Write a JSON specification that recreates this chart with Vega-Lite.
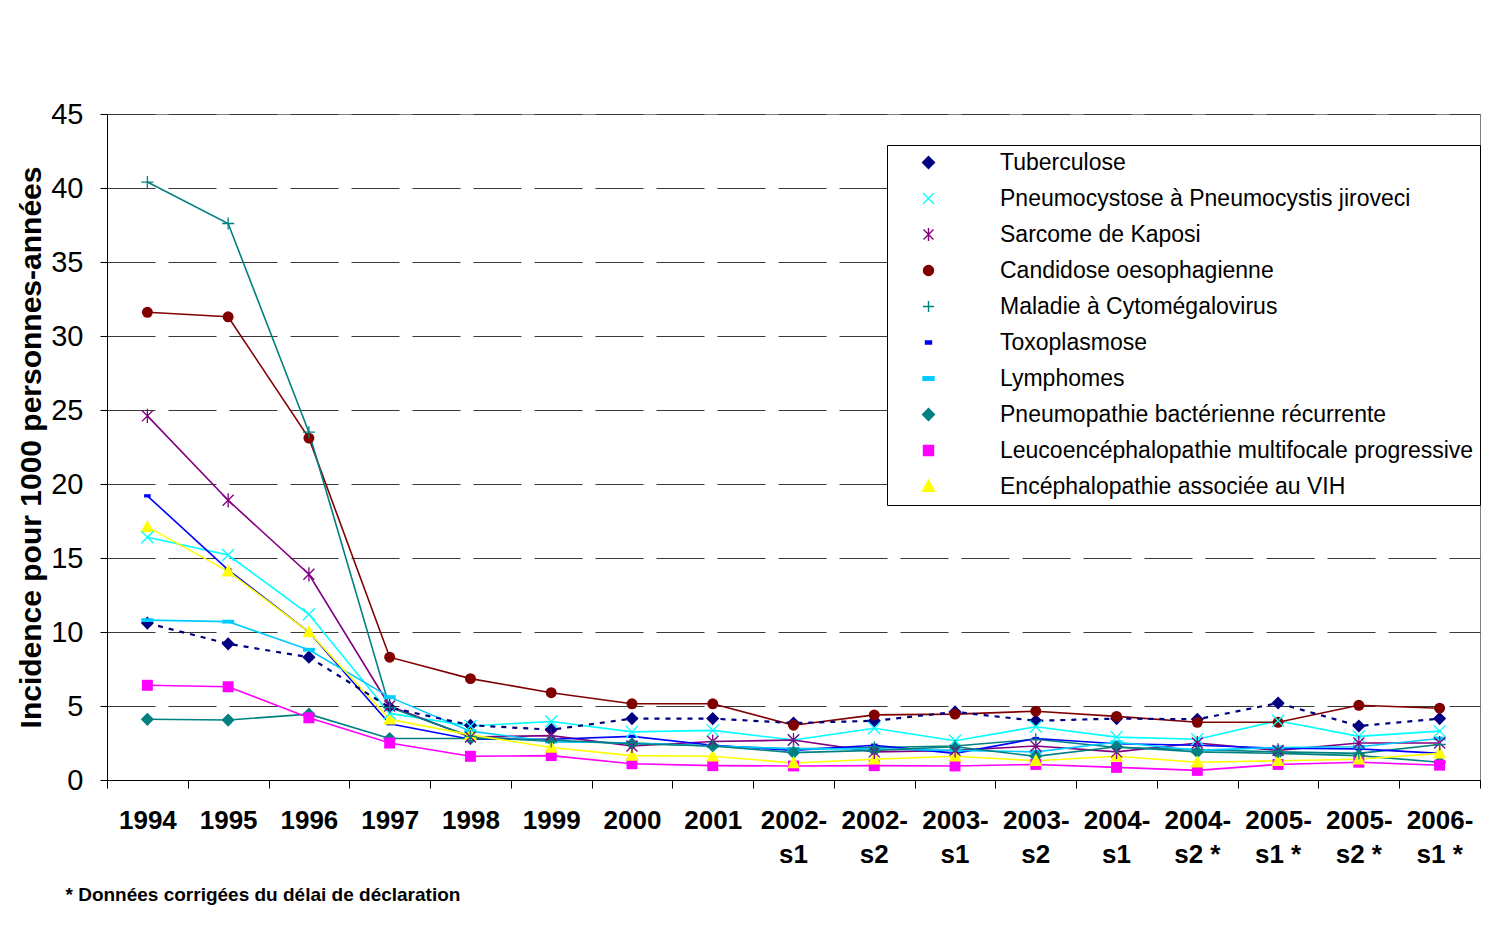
{
  "$schema": "https://vega.github.io/schema/vega-lite/v6.json",
  "width": 1373,
  "height": 666,
  "autosize": {"type": "none"},
  "padding": {"left": 107, "top": 114, "right": 31, "bottom": 157},
  "background": "#ffffff",
  "config": {
    "view": {"stroke": "#808080", "strokeWidth": 1},
    "font": "Liberation Sans"
  },
  "data": {
    "values": [
      {"annee": "1994", "maladie": "Tuberculose", "incidence": 10.6},
      {"annee": "1995", "maladie": "Tuberculose", "incidence": 9.2},
      {"annee": "1996", "maladie": "Tuberculose", "incidence": 8.3},
      {"annee": "1997", "maladie": "Tuberculose", "incidence": 4.9},
      {"annee": "1998", "maladie": "Tuberculose", "incidence": 3.7},
      {"annee": "1999", "maladie": "Tuberculose", "incidence": 3.4},
      {"annee": "2000", "maladie": "Tuberculose", "incidence": 4.15},
      {"annee": "2001", "maladie": "Tuberculose", "incidence": 4.15},
      {"annee": "2002-s1", "maladie": "Tuberculose", "incidence": 3.85},
      {"annee": "2002-s2", "maladie": "Tuberculose", "incidence": 4.0},
      {"annee": "2003-s1", "maladie": "Tuberculose", "incidence": 4.6},
      {"annee": "2003-s2", "maladie": "Tuberculose", "incidence": 4.0},
      {"annee": "2004-s1", "maladie": "Tuberculose", "incidence": 4.15},
      {"annee": "2004-s2 *", "maladie": "Tuberculose", "incidence": 4.1},
      {"annee": "2005-s1 *", "maladie": "Tuberculose", "incidence": 5.2},
      {"annee": "2005-s2 *", "maladie": "Tuberculose", "incidence": 3.65},
      {"annee": "2006-s1 *", "maladie": "Tuberculose", "incidence": 4.15},

      {"annee": "1994", "maladie": "Pneumocystose à Pneumocystis jiroveci", "incidence": 16.4},
      {"annee": "1995", "maladie": "Pneumocystose à Pneumocystis jiroveci", "incidence": 15.2},
      {"annee": "1996", "maladie": "Pneumocystose à Pneumocystis jiroveci", "incidence": 11.2},
      {"annee": "1997", "maladie": "Pneumocystose à Pneumocystis jiroveci", "incidence": 4.5},
      {"annee": "1998", "maladie": "Pneumocystose à Pneumocystis jiroveci", "incidence": 3.65},
      {"annee": "1999", "maladie": "Pneumocystose à Pneumocystis jiroveci", "incidence": 3.95},
      {"annee": "2000", "maladie": "Pneumocystose à Pneumocystis jiroveci", "incidence": 3.25},
      {"annee": "2001", "maladie": "Pneumocystose à Pneumocystis jiroveci", "incidence": 3.35},
      {"annee": "2002-s1", "maladie": "Pneumocystose à Pneumocystis jiroveci", "incidence": 2.7},
      {"annee": "2002-s2", "maladie": "Pneumocystose à Pneumocystis jiroveci", "incidence": 3.5},
      {"annee": "2003-s1", "maladie": "Pneumocystose à Pneumocystis jiroveci", "incidence": 2.65},
      {"annee": "2003-s2", "maladie": "Pneumocystose à Pneumocystis jiroveci", "incidence": 3.6},
      {"annee": "2004-s1", "maladie": "Pneumocystose à Pneumocystis jiroveci", "incidence": 2.9},
      {"annee": "2004-s2 *", "maladie": "Pneumocystose à Pneumocystis jiroveci", "incidence": 2.75},
      {"annee": "2005-s1 *", "maladie": "Pneumocystose à Pneumocystis jiroveci", "incidence": 4.0},
      {"annee": "2005-s2 *", "maladie": "Pneumocystose à Pneumocystis jiroveci", "incidence": 2.95},
      {"annee": "2006-s1 *", "maladie": "Pneumocystose à Pneumocystis jiroveci", "incidence": 3.3},

      {"annee": "1994", "maladie": "Sarcome de Kaposi", "incidence": 24.6},
      {"annee": "1995", "maladie": "Sarcome de Kaposi", "incidence": 18.9},
      {"annee": "1996", "maladie": "Sarcome de Kaposi", "incidence": 13.9},
      {"annee": "1997", "maladie": "Sarcome de Kaposi", "incidence": 5.0},
      {"annee": "1998", "maladie": "Sarcome de Kaposi", "incidence": 2.9},
      {"annee": "1999", "maladie": "Sarcome de Kaposi", "incidence": 3.0},
      {"annee": "2000", "maladie": "Sarcome de Kaposi", "incidence": 2.3},
      {"annee": "2001", "maladie": "Sarcome de Kaposi", "incidence": 2.6},
      {"annee": "2002-s1", "maladie": "Sarcome de Kaposi", "incidence": 2.7},
      {"annee": "2002-s2", "maladie": "Sarcome de Kaposi", "incidence": 1.9},
      {"annee": "2003-s1", "maladie": "Sarcome de Kaposi", "incidence": 2.0},
      {"annee": "2003-s2", "maladie": "Sarcome de Kaposi", "incidence": 2.3},
      {"annee": "2004-s1", "maladie": "Sarcome de Kaposi", "incidence": 1.9},
      {"annee": "2004-s2 *", "maladie": "Sarcome de Kaposi", "incidence": 2.5},
      {"annee": "2005-s1 *", "maladie": "Sarcome de Kaposi", "incidence": 2.0},
      {"annee": "2005-s2 *", "maladie": "Sarcome de Kaposi", "incidence": 2.5},
      {"annee": "2006-s1 *", "maladie": "Sarcome de Kaposi", "incidence": 2.5},

      {"annee": "1994", "maladie": "Candidose oesophagienne", "incidence": 31.6},
      {"annee": "1995", "maladie": "Candidose oesophagienne", "incidence": 31.3},
      {"annee": "1996", "maladie": "Candidose oesophagienne", "incidence": 23.1},
      {"annee": "1997", "maladie": "Candidose oesophagienne", "incidence": 8.3},
      {"annee": "1998", "maladie": "Candidose oesophagienne", "incidence": 6.85},
      {"annee": "1999", "maladie": "Candidose oesophagienne", "incidence": 5.9},
      {"annee": "2000", "maladie": "Candidose oesophagienne", "incidence": 5.15},
      {"annee": "2001", "maladie": "Candidose oesophagienne", "incidence": 5.15},
      {"annee": "2002-s1", "maladie": "Candidose oesophagienne", "incidence": 3.7},
      {"annee": "2002-s2", "maladie": "Candidose oesophagienne", "incidence": 4.4},
      {"annee": "2003-s1", "maladie": "Candidose oesophagienne", "incidence": 4.45},
      {"annee": "2003-s2", "maladie": "Candidose oesophagienne", "incidence": 4.65},
      {"annee": "2004-s1", "maladie": "Candidose oesophagienne", "incidence": 4.3},
      {"annee": "2004-s2 *", "maladie": "Candidose oesophagienne", "incidence": 3.9},
      {"annee": "2005-s1 *", "maladie": "Candidose oesophagienne", "incidence": 3.9},
      {"annee": "2005-s2 *", "maladie": "Candidose oesophagienne", "incidence": 5.05},
      {"annee": "2006-s1 *", "maladie": "Candidose oesophagienne", "incidence": 4.85},

      {"annee": "1994", "maladie": "Maladie à Cytomégalovirus", "incidence": 40.4},
      {"annee": "1995", "maladie": "Maladie à Cytomégalovirus", "incidence": 37.6},
      {"annee": "1996", "maladie": "Maladie à Cytomégalovirus", "incidence": 23.5},
      {"annee": "1997", "maladie": "Maladie à Cytomégalovirus", "incidence": 4.9},
      {"annee": "1998", "maladie": "Maladie à Cytomégalovirus", "incidence": 2.95},
      {"annee": "1999", "maladie": "Maladie à Cytomégalovirus", "incidence": 2.6},
      {"annee": "2000", "maladie": "Maladie à Cytomégalovirus", "incidence": 2.5},
      {"annee": "2001", "maladie": "Maladie à Cytomégalovirus", "incidence": 2.3},
      {"annee": "2002-s1", "maladie": "Maladie à Cytomégalovirus", "incidence": 2.1},
      {"annee": "2002-s2", "maladie": "Maladie à Cytomégalovirus", "incidence": 2.2},
      {"annee": "2003-s1", "maladie": "Maladie à Cytomégalovirus", "incidence": 2.3},
      {"annee": "2003-s2", "maladie": "Maladie à Cytomégalovirus", "incidence": 2.75},
      {"annee": "2004-s1", "maladie": "Maladie à Cytomégalovirus", "incidence": 2.2},
      {"annee": "2004-s2 *", "maladie": "Maladie à Cytomégalovirus", "incidence": 2.05},
      {"annee": "2005-s1 *", "maladie": "Maladie à Cytomégalovirus", "incidence": 1.9},
      {"annee": "2005-s2 *", "maladie": "Maladie à Cytomégalovirus", "incidence": 1.8},
      {"annee": "2006-s1 *", "maladie": "Maladie à Cytomégalovirus", "incidence": 2.4},

      {"annee": "1994", "maladie": "Toxoplasmose", "incidence": 19.2},
      {"annee": "1995", "maladie": "Toxoplasmose", "incidence": 14.2},
      {"annee": "1996", "maladie": "Toxoplasmose", "incidence": 10.0},
      {"annee": "1997", "maladie": "Toxoplasmose", "incidence": 3.8},
      {"annee": "1998", "maladie": "Toxoplasmose", "incidence": 2.75},
      {"annee": "1999", "maladie": "Toxoplasmose", "incidence": 2.75},
      {"annee": "2000", "maladie": "Toxoplasmose", "incidence": 2.95},
      {"annee": "2001", "maladie": "Toxoplasmose", "incidence": 2.35},
      {"annee": "2002-s1", "maladie": "Toxoplasmose", "incidence": 2.0},
      {"annee": "2002-s2", "maladie": "Toxoplasmose", "incidence": 2.35},
      {"annee": "2003-s1", "maladie": "Toxoplasmose", "incidence": 1.8},
      {"annee": "2003-s2", "maladie": "Toxoplasmose", "incidence": 2.8},
      {"annee": "2004-s1", "maladie": "Toxoplasmose", "incidence": 2.45},
      {"annee": "2004-s2 *", "maladie": "Toxoplasmose", "incidence": 2.35},
      {"annee": "2005-s1 *", "maladie": "Toxoplasmose", "incidence": 2.15},
      {"annee": "2005-s2 *", "maladie": "Toxoplasmose", "incidence": 2.1},
      {"annee": "2006-s1 *", "maladie": "Toxoplasmose", "incidence": 1.8},

      {"annee": "1994", "maladie": "Lymphomes", "incidence": 10.8},
      {"annee": "1995", "maladie": "Lymphomes", "incidence": 10.7},
      {"annee": "1996", "maladie": "Lymphomes", "incidence": 8.8},
      {"annee": "1997", "maladie": "Lymphomes", "incidence": 5.6},
      {"annee": "1998", "maladie": "Lymphomes", "incidence": 3.3},
      {"annee": "1999", "maladie": "Lymphomes", "incidence": 2.6},
      {"annee": "2000", "maladie": "Lymphomes", "incidence": 2.5},
      {"annee": "2001", "maladie": "Lymphomes", "incidence": 2.3},
      {"annee": "2002-s1", "maladie": "Lymphomes", "incidence": 2.1},
      {"annee": "2002-s2", "maladie": "Lymphomes", "incidence": 2.1},
      {"annee": "2003-s1", "maladie": "Lymphomes", "incidence": 2.0},
      {"annee": "2003-s2", "maladie": "Lymphomes", "incidence": 1.9},
      {"annee": "2004-s1", "maladie": "Lymphomes", "incidence": 2.55},
      {"annee": "2004-s2 *", "maladie": "Lymphomes", "incidence": 2.0},
      {"annee": "2005-s1 *", "maladie": "Lymphomes", "incidence": 2.2},
      {"annee": "2005-s2 *", "maladie": "Lymphomes", "incidence": 2.25},
      {"annee": "2006-s1 *", "maladie": "Lymphomes", "incidence": 2.8},

      {"annee": "1994", "maladie": "Pneumopathie bactérienne récurrente", "incidence": 4.1},
      {"annee": "1995", "maladie": "Pneumopathie bactérienne récurrente", "incidence": 4.05},
      {"annee": "1996", "maladie": "Pneumopathie bactérienne récurrente", "incidence": 4.45},
      {"annee": "1997", "maladie": "Pneumopathie bactérienne récurrente", "incidence": 2.8},
      {"annee": "1998", "maladie": "Pneumopathie bactérienne récurrente", "incidence": 2.8},
      {"annee": "1999", "maladie": "Pneumopathie bactérienne récurrente", "incidence": 2.7},
      {"annee": "2000", "maladie": "Pneumopathie bactérienne récurrente", "incidence": 2.45},
      {"annee": "2001", "maladie": "Pneumopathie bactérienne récurrente", "incidence": 2.3},
      {"annee": "2002-s1", "maladie": "Pneumopathie bactérienne récurrente", "incidence": 1.85},
      {"annee": "2002-s2", "maladie": "Pneumopathie bactérienne récurrente", "incidence": 2.0},
      {"annee": "2003-s1", "maladie": "Pneumopathie bactérienne récurrente", "incidence": 2.25},
      {"annee": "2003-s2", "maladie": "Pneumopathie bactérienne récurrente", "incidence": 1.6},
      {"annee": "2004-s1", "maladie": "Pneumopathie bactérienne récurrente", "incidence": 2.25},
      {"annee": "2004-s2 *", "maladie": "Pneumopathie bactérienne récurrente", "incidence": 1.9},
      {"annee": "2005-s1 *", "maladie": "Pneumopathie bactérienne récurrente", "incidence": 1.8},
      {"annee": "2005-s2 *", "maladie": "Pneumopathie bactérienne récurrente", "incidence": 1.65},
      {"annee": "2006-s1 *", "maladie": "Pneumopathie bactérienne récurrente", "incidence": 1.2},

      {"annee": "1994", "maladie": "Leucoencéphalopathie multifocale progressive", "incidence": 6.4},
      {"annee": "1995", "maladie": "Leucoencéphalopathie multifocale progressive", "incidence": 6.3},
      {"annee": "1996", "maladie": "Leucoencéphalopathie multifocale progressive", "incidence": 4.2},
      {"annee": "1997", "maladie": "Leucoencéphalopathie multifocale progressive", "incidence": 2.5},
      {"annee": "1998", "maladie": "Leucoencéphalopathie multifocale progressive", "incidence": 1.6},
      {"annee": "1999", "maladie": "Leucoencéphalopathie multifocale progressive", "incidence": 1.65},
      {"annee": "2000", "maladie": "Leucoencéphalopathie multifocale progressive", "incidence": 1.1},
      {"annee": "2001", "maladie": "Leucoencéphalopathie multifocale progressive", "incidence": 0.97},
      {"annee": "2002-s1", "maladie": "Leucoencéphalopathie multifocale progressive", "incidence": 0.95},
      {"annee": "2002-s2", "maladie": "Leucoencéphalopathie multifocale progressive", "incidence": 0.97},
      {"annee": "2003-s1", "maladie": "Leucoencéphalopathie multifocale progressive", "incidence": 0.95},
      {"annee": "2003-s2", "maladie": "Leucoencéphalopathie multifocale progressive", "incidence": 1.05},
      {"annee": "2004-s1", "maladie": "Leucoencéphalopathie multifocale progressive", "incidence": 0.85},
      {"annee": "2004-s2 *", "maladie": "Leucoencéphalopathie multifocale progressive", "incidence": 0.65},
      {"annee": "2005-s1 *", "maladie": "Leucoencéphalopathie multifocale progressive", "incidence": 1.05},
      {"annee": "2005-s2 *", "maladie": "Leucoencéphalopathie multifocale progressive", "incidence": 1.2},
      {"annee": "2006-s1 *", "maladie": "Leucoencéphalopathie multifocale progressive", "incidence": 1.0},

      {"annee": "1994", "maladie": "Encéphalopathie associée au VIH", "incidence": 17.1},
      {"annee": "1995", "maladie": "Encéphalopathie associée au VIH", "incidence": 14.1},
      {"annee": "1996", "maladie": "Encéphalopathie associée au VIH", "incidence": 10.0},
      {"annee": "1997", "maladie": "Encéphalopathie associée au VIH", "incidence": 4.1},
      {"annee": "1998", "maladie": "Encéphalopathie associée au VIH", "incidence": 3.05},
      {"annee": "1999", "maladie": "Encéphalopathie associée au VIH", "incidence": 2.2},
      {"annee": "2000", "maladie": "Encéphalopathie associée au VIH", "incidence": 1.65},
      {"annee": "2001", "maladie": "Encéphalopathie associée au VIH", "incidence": 1.6},
      {"annee": "2002-s1", "maladie": "Encéphalopathie associée au VIH", "incidence": 1.15},
      {"annee": "2002-s2", "maladie": "Encéphalopathie associée au VIH", "incidence": 1.4},
      {"annee": "2003-s1", "maladie": "Encéphalopathie associée au VIH", "incidence": 1.6},
      {"annee": "2003-s2", "maladie": "Encéphalopathie associée au VIH", "incidence": 1.3},
      {"annee": "2004-s1", "maladie": "Encéphalopathie associée au VIH", "incidence": 1.6},
      {"annee": "2004-s2 *", "maladie": "Encéphalopathie associée au VIH", "incidence": 1.2},
      {"annee": "2005-s1 *", "maladie": "Encéphalopathie associée au VIH", "incidence": 1.3},
      {"annee": "2005-s2 *", "maladie": "Encéphalopathie associée au VIH", "incidence": 1.4},
      {"annee": "2006-s1 *", "maladie": "Encéphalopathie associée au VIH", "incidence": 1.8}
    ]
  },
  "resolve": {"axis": {"x": "independent"}},
  "layer": [
    {
      "encoding": {
        "x": {
          "field": "annee",
          "type": "ordinal",
          "sort": null,
          "scale": {"type": "band", "paddingInner": 0, "paddingOuter": 0},
          "axis": {
            "title": null,
            "labelAngle": 0,
            "labelFont": "Liberation Sans",
            "labelFontSize": 26,
            "labelFontWeight": "bold",
            "labelColor": "#000000",
            "labelPadding": 19,
            "labelExpr": "isValid(datum.value) ? substring(datum.value, 0, 5) : ''",
            "tickBand": "extent",
            "tickSize": 8,
            "tickColor": "#000000",
            "domainColor": "#000000",
            "grid": false
          }
        },
        "y": {
          "field": "incidence",
          "type": "quantitative",
          "scale": {"domain": [0, 45], "nice": false},
          "axis": {
            "title": "Incidence pour 1000 personnes-années",
            "titleFont": "Liberation Sans",
            "titleFontSize": 30,
            "titleFontWeight": "bold",
            "titleColor": "#000000",
            "titlePadding": 4,
            "values": [0, 5, 10, 15, 20, 25, 30, 35, 40, 45],
            "labelFont": "Liberation Sans",
            "labelFontSize": 29,
            "labelColor": "#000000",
            "labelPadding": 17,
            "tickSize": 7,
            "tickColor": "#000000",
            "domainColor": "#000000",
            "grid": true,
            "gridColor": "#3a3a3a",
            "gridDash": [48, 13],
            "gridWidth": 1
          }
        }
      },
      "layer": [
        {
          "transform": [{"filter": "datum.maladie !== 'Tuberculose'"}],
          "mark": {"type": "line", "strokeWidth": 1.6},
          "encoding": {
            "color": {
              "field": "maladie",
              "type": "nominal",
              "scale": {
                "domain": ["Tuberculose", "Pneumocystose à Pneumocystis jiroveci", "Sarcome de Kaposi", "Candidose oesophagienne", "Maladie à Cytomégalovirus", "Toxoplasmose", "Lymphomes", "Pneumopathie bactérienne récurrente", "Leucoencéphalopathie multifocale progressive", "Encéphalopathie associée au VIH"],
                "range": ["#000080", "#00FFFF", "#800080", "#800000", "#008080", "#0000FF", "#00CCFF", "#008080", "#FF00FF", "#FFFF00"]
              },
              "legend": {
                "title": null,
                "orient": "none",
                "legendX": 780,
                "legendY": 31,
                "strokeColor": "#000000",
                "fillColor": "#ffffff",
                "padding": 6,
                "labelFont": "Liberation Sans",
                "labelFontSize": 23,
                "labelColor": "#000000",
                "labelLimit": 800,
                "labelOffset": 60,
                "symbolOffset": 24,
                "symbolSize": 100,
                "symbolStrokeWidth": 1.4,
                "rowPadding": 12
              }
            }
          }
        },
        {
          "transform": [{"filter": "datum.maladie === 'Tuberculose'"}],
          "mark": {"type": "line", "strokeWidth": 2.2, "strokeDash": [5, 6]},
          "encoding": {
            "color": {"field": "maladie", "type": "nominal"}
          }
        },
        {
          "transform": [{"filter": "datum.maladie !== 'Pneumocystose à Pneumocystis jiroveci' && datum.maladie !== 'Sarcome de Kaposi' && datum.maladie !== 'Maladie à Cytomégalovirus'"}],
          "mark": {"type": "point", "size": 120, "filled": true, "opacity": 1},
          "encoding": {
            "color": {"field": "maladie", "type": "nominal"},
            "shape": {
              "field": "maladie",
              "type": "nominal",
              "scale": {
                "domain": ["Tuberculose", "Pneumocystose à Pneumocystis jiroveci", "Sarcome de Kaposi", "Candidose oesophagienne", "Maladie à Cytomégalovirus", "Toxoplasmose", "Lymphomes", "Pneumopathie bactérienne récurrente", "Leucoencéphalopathie multifocale progressive", "Encéphalopathie associée au VIH"],
                "range": ["M0,-1.2L1.2,0L0,1.2L-1.2,0Z", "M-1.1,-1.1L1.1,1.1M-1.1,1.1L1.1,-1.1", "M-1,-1L1,1M-1,1L1,-1M0,-1.3V1.3", "circle", "M-1.1,0H1.1M0,-1.1V1.1", "M-0.6,-0.3H0.6V0.3H-0.6Z", "M-1.1,-0.35H1.1V0.35H-1.1Z", "M0,-1.2L1.2,0L0,1.2L-1.2,0Z", "M-1,-1H1V1H-1Z", "M0,-1.3L1.2,0.95H-1.2Z"]
              },
              "legend": null
            }
          }
        },
        {
          "transform": [{"filter": "datum.maladie === 'Pneumocystose à Pneumocystis jiroveci' || datum.maladie === 'Sarcome de Kaposi' || datum.maladie === 'Maladie à Cytomégalovirus'"}],
          "mark": {"type": "point", "size": 120, "filled": false, "strokeWidth": 1.3, "opacity": 1},
          "encoding": {
            "color": {"field": "maladie", "type": "nominal"},
            "shape": {"field": "maladie", "type": "nominal", "legend": null}
          }
        }
      ]
    },
    {
      "mark": {"type": "point", "opacity": 0},
      "encoding": {
        "x": {
          "field": "annee",
          "type": "ordinal",
          "sort": null,
          "scale": {"type": "band", "paddingInner": 0, "paddingOuter": 0},
          "axis": {
            "orient": "bottom",
            "offset": 34,
            "domain": false,
            "tickOpacity": 0,
            "tickSize": 8,
            "labelAngle": 0,
            "labelFont": "Liberation Sans",
            "labelFontSize": 26,
            "labelFontWeight": "bold",
            "labelColor": "#000000",
            "labelPadding": 19,
            "labelExpr": "isValid(datum.value) ? substring(datum.value, 5) : ''",
            "grid": false,
            "title": "* Données corrigées du délai de déclaration",
            "titleFont": "Liberation Sans",
            "titleFontSize": 19,
            "titleFontWeight": "bold",
            "titleColor": "#000000",
            "titleAnchor": "start",
            "titleAlign": "left",
            "titleBaseline": "top",
            "titleX": -42,
            "titleY": 71
          }
        },
        "y": {
          "field": "incidence",
          "type": "quantitative",
          "scale": {"domain": [0, 45], "nice": false},
          "axis": {
            "title": "Incidence pour 1000 personnes-années",
            "titleFont": "Liberation Sans",
            "titleFontSize": 30,
            "titleFontWeight": "bold",
            "titleColor": "#000000",
            "titlePadding": 4,
            "values": [0, 5, 10, 15, 20, 25, 30, 35, 40, 45],
            "labelFont": "Liberation Sans",
            "labelFontSize": 29,
            "labelColor": "#000000",
            "labelPadding": 17,
            "tickSize": 7,
            "tickColor": "#000000",
            "domainColor": "#000000",
            "grid": true,
            "gridColor": "#3a3a3a",
            "gridDash": [48, 13],
            "gridWidth": 1
          }
        }
      }
    }
  ]
}
